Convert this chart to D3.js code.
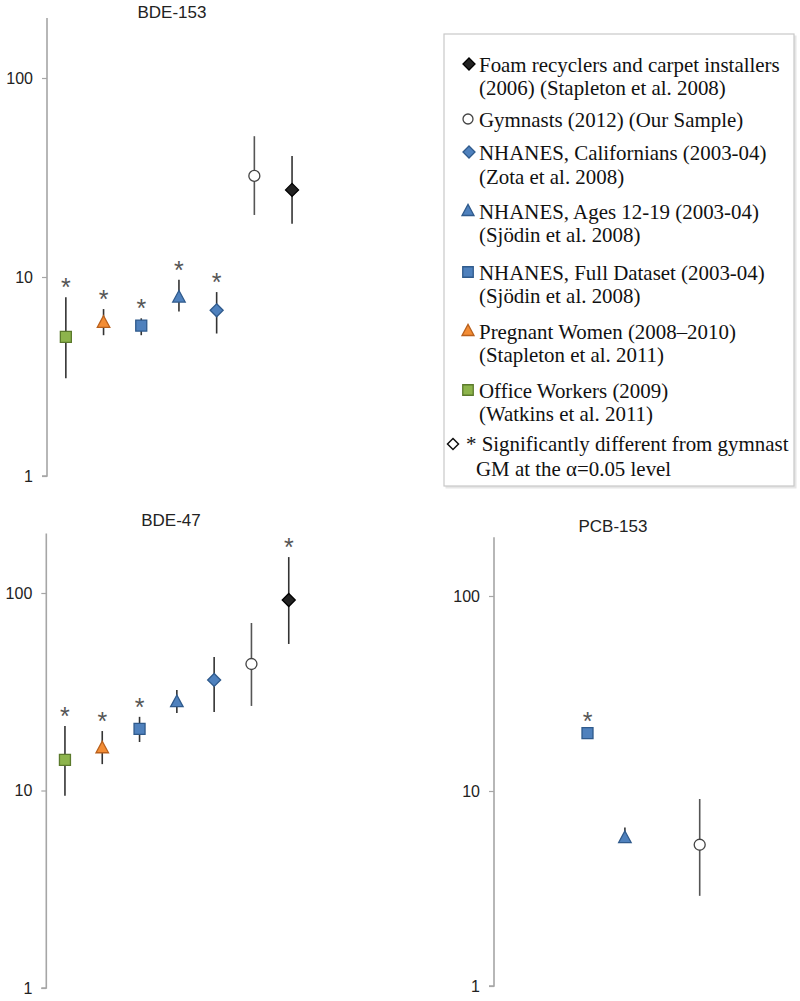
<!DOCTYPE html>
<html><head><meta charset="utf-8">
<script src="https://cdn.jsdelivr.net/npm/d3@7"></script>
<style>body{margin:0;background:#fff}svg{display:block}</style>
</head><body>
<svg id="c" width="800" height="1001"></svg>
<script>
// ---- data ----
const categories = ["Office Workers", "Pregnant Women", "NHANES Full", "NHANES 12-19", "NHANES Californians", "Gymnasts", "Foam recyclers"];
const groupKeys = ["office", "pregnant", "nhanesFull", "nhanesTeen", "nhanesCA", "gymnasts", "foam"];
const yTicks = [1, 10, 100];

const bde153GM = [5.0, 5.9, 5.7, 7.9, 6.8, 32.2, 27.4];
const bde153Lo = [3.1, 5.1, 5.1, 6.7, 5.2, 20.5, 18.5];
const bde153Hi = [7.9, 6.9, 6.2, 9.7, 8.4, 51.0, 40.5];
const bde153Sig = [1, 1, 1, 1, 1, 0, 0];

const bde47GM = [14.3, 16.4, 20.5, 28.1, 36.3, 43.7, 92.2];
const bde47Lo = [9.4, 13.6, 17.6, 24.7, 25.0, 26.8, 55.2];
const bde47Hi = [21.2, 20.0, 23.6, 32.3, 47.4, 70.5, 152];
const bde47Sig = [1, 1, 1, 0, 0, 0, 1];

const pcb153GM = [null, null, 19.8, 5.75, null, 5.3, null];
const pcb153Lo = [null, null, 19.3, 5.5, null, 2.9, null];
const pcb153Hi = [null, null, 20.4, 6.5, null, 9.1, null];
const pcb153Sig = [0, 0, 1, 0, 0, 0, 0];

const legendLines = [
  ["Foam recyclers and carpet installers", "(2006) (Stapleton et al. 2008)"],
  ["Gymnasts (2012) (Our Sample)"],
  ["NHANES, Californians (2003-04)", "(Zota et al. 2008)"],
  ["NHANES, Ages 12-19 (2003-04)", "(Sjödin et al. 2008)"],
  ["NHANES, Full Dataset (2003-04)", "(Sjödin et al. 2008)"],
  ["Pregnant Women (2008\u20132010)", "(Stapleton et al. 2011)"],
  ["Office Workers (2009)", "(Watkins et al. 2011)"]
];
const legendKeys = ["foam", "gymnasts", "nhanesCA", "nhanesTeen", "nhanesFull", "pregnant", "office"];
const sigNote = ["* Significantly different from gymnast", "GM at the \u03b1=0.05 level"];

// ---- styles ----
const style = {
  office:     {shape: "square",   fill: "#8db44c", stroke: "#5b7a2c"},
  pregnant:   {shape: "triangle", fill: "#f38d35", stroke: "#b9601c"},
  nhanesFull: {shape: "square",   fill: "#4f81bd", stroke: "#2f5a8c"},
  nhanesTeen: {shape: "triangle", fill: "#4f81bd", stroke: "#2f5a8c"},
  nhanesCA:   {shape: "diamond",  fill: "#4f81bd", stroke: "#2f5a8c"},
  gymnasts:   {shape: "circle",   fill: "#ffffff", stroke: "#444"},
  foam:       {shape: "diamond",  fill: "#222",    stroke: "#000"}
};
function shapePath(shape, s) {
  const h = s / 2;
  if (shape === "square") return `M${-h},${-h}H${h}V${h}H${-h}Z`;
  if (shape === "diamond") return `M0,${-h}L${h},0L0,${h}L${-h},0Z`;
  if (shape === "triangle") return `M0,${-h * 1.1}L${h},${h * 0.75}L${-h},${h * 0.75}Z`;
  const r = h; return `M${r},0A${r},${r} 0 1,1 ${-r},0A${r},${r} 0 1,1 ${r},0Z`;
}
const markerSize = {square: 11, diamond: 13, triangle: 12.5, circle: 11};

const svg = d3.select("#c");
const FONT = "'Liberation Sans', Arial, Helvetica, sans-serif";

function panel(cfg) {
  const y = d3.scaleLog().domain([1, 200]).range([cfg.y1, cfg.y1 - cfg.decade * Math.log10(200)]);
  const x = d3.scaleBand().domain(categories).range([cfg.ax, cfg.ax + cfg.step * 7]).padding(0);
  const g = svg.append("g");
  const axis = d3.axisLeft(y).tickValues(yTicks).tickFormat(d3.format("d")).tickSize(5).tickPadding(9);
  const ag = g.append("g").attr("transform", `translate(${cfg.ax},0)`).call(axis);
  ag.select(".domain").attr("stroke", "#a6a6a6").attr("stroke-width", 1.6).attr("d", `M-5,${y(1)}H0V${y(200)}`);
  ag.selectAll(".tick line").attr("stroke", "#a6a6a6").attr("stroke-width", 1.2);
  ag.selectAll(".tick text").attr("font-family", FONT).attr("font-size", 16).attr("fill", "#222");
  g.append("text").attr("x", cfg.tx).attr("y", cfg.ty).attr("text-anchor", "middle")
    .attr("font-family", FONT).attr("font-size", 17).attr("fill", "#222").text(cfg.title);
  const rows = categories.map((c, i) => ({c, k: groupKeys[i], gm: cfg.gm[i], lo: cfg.lo[i], hi: cfg.hi[i], sig: cfg.sig[i]}))
    .filter(d => d.gm != null);
  const cx = d => x(d.c) + x.bandwidth() / 2;
  g.selectAll("line.err").data(rows).join("line").attr("class", "err")
    .attr("x1", cx).attr("x2", cx).attr("y1", d => y(d.hi)).attr("y2", d => y(d.lo))
    .attr("stroke", d => d.k === "gymnasts" ? "#555" : "#333").attr("stroke-width", 1.6);
  g.selectAll("path.mk").data(rows).join("path").attr("class", "mk")
    .attr("transform", d => `translate(${cx(d)},${y(d.gm)})`)
    .attr("d", d => shapePath(style[d.k].shape, markerSize[style[d.k].shape]))
    .attr("fill", d => style[d.k].fill).attr("stroke", d => style[d.k].stroke).attr("stroke-width", 1.3);
  g.selectAll("text.sig").data(rows.filter(d => d.sig)).join("text").attr("class", "sig")
    .attr("x", cx).attr("y", d => y(d.hi) - 15 + 14).attr("text-anchor", "middle")
    .attr("font-family", FONT).attr("font-size", 25).attr("fill", "#555").text("*");
}

panel({title: "BDE-153", ax: 47, y1: 476, decade: 199, step: 37.7, tx: 172, ty: 18, gm: bde153GM, lo: bde153Lo, hi: bde153Hi, sig: bde153Sig});
panel({title: "BDE-47", ax: 46.3, y1: 988, decade: 197.5, step: 37.3, tx: 171, ty: 526, gm: bde47GM, lo: bde47Lo, hi: bde47Hi, sig: bde47Sig});
panel({title: "PCB-153", ax: 494, y1: 986, decade: 195, step: 37.4, tx: 613, ty: 532, gm: pcb153GM, lo: pcb153Lo, hi: pcb153Hi, sig: pcb153Sig});

// ---- legend ----
const lg = svg.append("g");
lg.append("rect").attr("x", 445.5).attr("y", 35.5).attr("width", 351).attr("height", 453).attr("fill", "#e6e6e6");
lg.append("rect").attr("x", 444).attr("y", 34).attr("width", 350).attr("height", 452)
  .attr("fill", "#fff").attr("stroke", "#c9c9c9").attr("stroke-width", 1.2);
const SERIF = "'Liberation Serif', 'DejaVu Serif', serif";
const probe = lg.append("text").attr("font-family", SERIF).attr("font-size", 100).text(legendLines[0][0]);
const fs = 100 * 301 / probe.node().getComputedTextLength();
probe.remove();
const itemY = [[65, 88], [120], [153, 177], [212, 235], [273, 296], [332, 355], [391, 414]];
legendKeys.forEach((k, i) => {
  const st = style[k];
  lg.append("path").attr("transform", `translate(${st.shape === "diamond" ? 469 : 468},${itemY[i][0] - 1})`)
    .attr("d", shapePath(st.shape, st.shape === "circle" ? 10 : (st.shape === "square" ? 10.5 : 12)))
    .attr("fill", st.fill).attr("stroke", st.stroke).attr("stroke-width", 1.3);
  legendLines[i].forEach((t, j) => {
    lg.append("text").attr("x", 479).attr("y", itemY[i][j] + fs * 0.33)
      .attr("font-family", SERIF).attr("font-size", fs).attr("fill", "#111").text(t);
  });
});
lg.append("path").attr("transform", "translate(453,444)").attr("d", shapePath("diamond", 11))
  .attr("fill", "#fff").attr("stroke", "#111").attr("stroke-width", 1.5);
[444, 469].forEach((yy, j) => {
  lg.append("text").attr("x", j === 0 ? 466 : 476).attr("y", yy + fs * 0.33)
    .attr("font-family", SERIF).attr("font-size", fs).attr("fill", "#111").text(sigNote[j]);
});
</script>
</body></html>
